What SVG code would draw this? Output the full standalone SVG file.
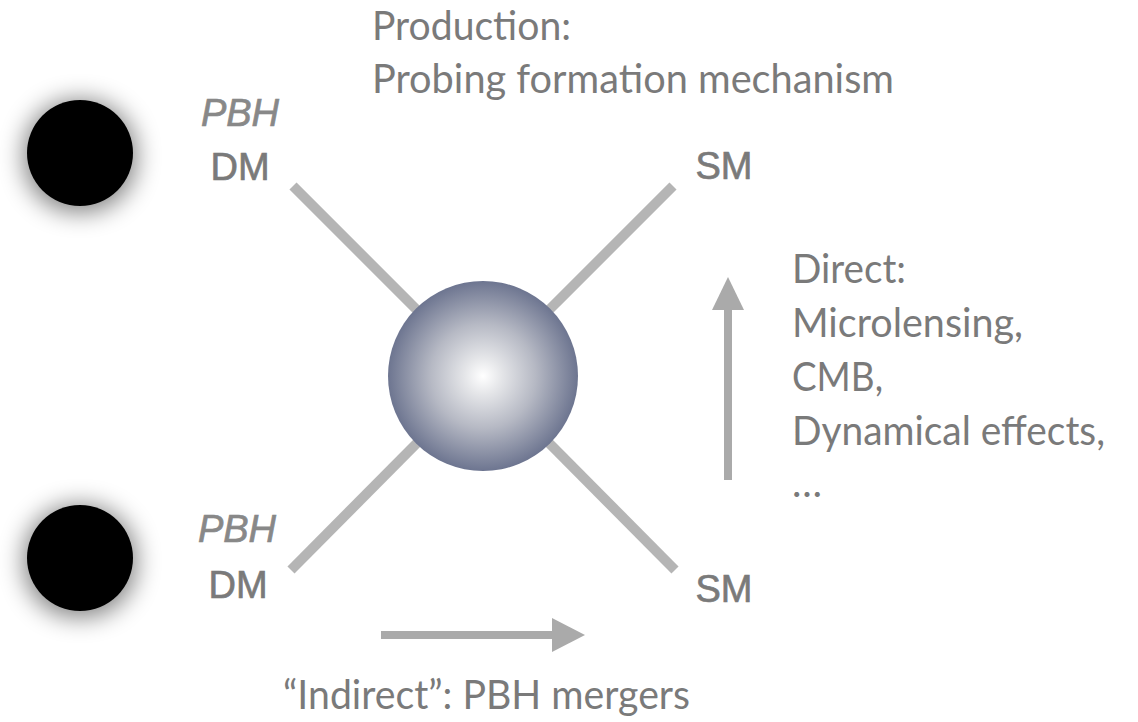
<svg xmlns="http://www.w3.org/2000/svg" width="1138" height="722" viewBox="0 0 1138 722">
<style>
.cal{font-family:Lato,"Open Sans","Liberation Sans",sans-serif;font-size:40px;fill:#7a7a7a}
.lab{font-family:"Liberation Sans",Arial,sans-serif;font-size:38px;fill:#7a7a7a;stroke:#7a7a7a;stroke-width:0.7;text-anchor:middle}
.pbh{font-style:italic;fill:#888888;stroke:#888888}
.leg{stroke:#b5b5b5;stroke-width:10;fill:none}
.arr{stroke:#aaaaaa;stroke-width:8;fill:none}
.head{fill:#aaaaaa}
</style>
<defs>
<filter id="sh" x="-70%" y="-70%" width="240%" height="240%">
<feMorphology in="SourceAlpha" operator="dilate" radius="3" result="d"/>
<feGaussianBlur in="d" stdDeviation="12" result="b"/>
<feOffset in="b" dx="0" dy="3" result="o"/>
<feComponentTransfer in="o" result="s"><feFuncA type="linear" slope="0.5"/></feComponentTransfer>
<feMerge><feMergeNode in="s"/><feMergeNode in="SourceGraphic"/></feMerge>
</filter>
<radialGradient id="sg" cx="0.5" cy="0.5" r="0.5">
<stop offset="0" stop-color="#ffffff"/>
<stop offset="0.2" stop-color="#e4e5e8"/>
<stop offset="0.55" stop-color="#b6b9c4"/>
<stop offset="1" stop-color="#6d7590"/>
</radialGradient>
</defs>
<rect width="1138" height="722" fill="#ffffff"/>
<g id="connectors">
<line class="leg" x1="293" y1="186" x2="420" y2="313"/>
<line class="leg" x1="673" y1="186" x2="546" y2="313"/>
<line class="leg" x1="291" y1="570" x2="420" y2="440"/>
<line class="leg" x1="675" y1="570" x2="546" y2="440"/>
<line class="arr" x1="728" y1="480" x2="728" y2="306"/>
<polygon class="head" points="712,310 744,310 728,277"/>
<line class="arr" x1="381" y1="635" x2="556" y2="635"/>
<polygon class="head" points="552,618 552,652 585,635"/>
</g>
<g id="pbh-top">
<circle cx="80" cy="153" r="53" fill="#000" filter="url(#sh)"/>
</g>
<g id="pbh-bottom">
<circle cx="80" cy="558" r="53" fill="#000" filter="url(#sh)"/>
</g>
<g id="sphere">
<circle cx="483" cy="376" r="95" fill="url(#sg)"/>
</g>
<g id="dm-top">
<text class="lab pbh" x="240" y="126">PBH</text>
<text class="lab" x="240" y="180">DM</text>
</g>
<g id="dm-bottom">
<text class="lab pbh" x="237" y="542">PBH</text>
<text class="lab" x="238" y="598">DM</text>
</g>
<g id="sm-top">
<text class="lab" x="724" y="179">SM</text>
</g>
<g id="sm-bottom">
<text class="lab" x="724" y="602">SM</text>
</g>
<g id="production">
<text class="cal" x="372" y="40" textLength="199" lengthAdjust="spacingAndGlyphs">Production:</text>
<text class="cal" x="372" y="93" textLength="522" lengthAdjust="spacingAndGlyphs">Probing formation mechanism</text>
</g>
<g id="direct">
<text class="cal" x="792" y="283" textLength="114" lengthAdjust="spacingAndGlyphs">Direct:</text>
<text class="cal" x="792" y="337" textLength="231" lengthAdjust="spacingAndGlyphs">Microlensing,</text>
<text class="cal" x="792" y="391" textLength="91" lengthAdjust="spacingAndGlyphs">CMB,</text>
<text class="cal" x="792" y="445" textLength="313" lengthAdjust="spacingAndGlyphs">Dynamical effects,</text>
<text class="cal" x="792" y="497">…</text>
</g>
<g id="indirect">
<text class="cal" x="283" y="709" textLength="407" lengthAdjust="spacingAndGlyphs">“Indirect”: PBH mergers</text>
</g>
</svg>
